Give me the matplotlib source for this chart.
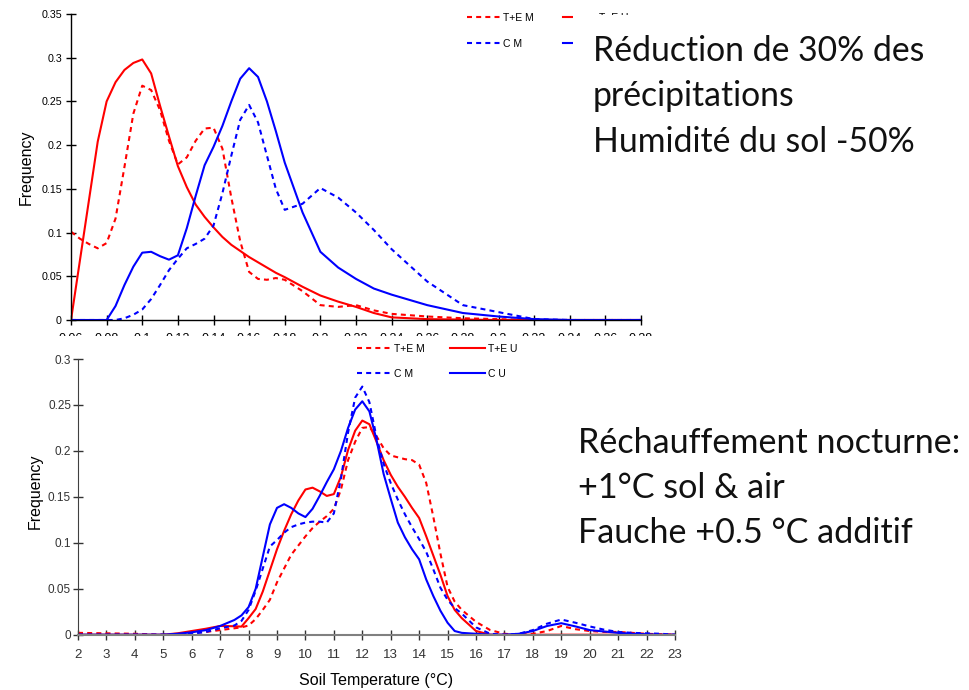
import matplotlib
matplotlib.use("Agg")
import matplotlib.pyplot as plt
from matplotlib.patches import Rectangle

plt.rcParams['font.family'] = ['Liberation Sans', 'DejaVu Sans']

RED = '#FF0000'
BLUE = '#0000FF'

# ---------------- top panel: soil moisture ----------------
moisture = [0.06, 0.065, 0.07, 0.075, 0.08, 0.085, 0.09, 0.095, 0.10, 0.105,
            0.11, 0.115, 0.12, 0.125, 0.13, 0.135, 0.14, 0.145, 0.15, 0.155,
            0.16, 0.165, 0.17, 0.175, 0.18, 0.19, 0.20, 0.21, 0.22, 0.23,
            0.24, 0.26, 0.28, 0.30, 0.32, 0.34, 0.36, 0.38]
top_te_m = [0.101, 0.093, 0.087, 0.082, 0.088, 0.116, 0.175, 0.236, 0.268, 0.263,
            0.24, 0.205, 0.178, 0.186, 0.205, 0.219, 0.220, 0.196, 0.14, 0.09,
            0.055, 0.047, 0.046, 0.048, 0.046, 0.033, 0.017, 0.015, 0.017, 0.011,
            0.007, 0.004, 0.002, 0.001, 0, 0, 0, 0]
top_te_u = [0, 0.068, 0.136, 0.204, 0.25, 0.272, 0.286, 0.294, 0.298, 0.282,
            0.245, 0.21, 0.176, 0.152, 0.132, 0.118, 0.106, 0.095, 0.086, 0.079,
            0.072, 0.066, 0.06, 0.054, 0.049, 0.038, 0.028, 0.021, 0.015, 0.008,
            0.003, 0.001, 0.0005, 0, 0, 0, 0, 0]
top_c_m = [0, 0, 0, 0, 0, 0, 0.002, 0.006, 0.012, 0.024,
           0.040, 0.057, 0.070, 0.082, 0.087, 0.093, 0.108, 0.145, 0.188, 0.229,
           0.246, 0.226, 0.188, 0.150, 0.126, 0.133, 0.151, 0.140, 0.123, 0.103,
           0.081, 0.044, 0.017, 0.009, 0.001, 0, 0, 0]
top_c_u = [0, 0, 0, 0, 0, 0.016, 0.040, 0.061, 0.077, 0.078,
           0.073, 0.069, 0.074, 0.105, 0.142, 0.177, 0.198, 0.222, 0.250, 0.276,
           0.288, 0.278, 0.250, 0.216, 0.180, 0.123, 0.078, 0.060, 0.047, 0.036,
           0.029, 0.017, 0.008, 0.004, 0.001, 0, 0, 0]
top_xticks = [0.06, 0.08, 0.10, 0.12, 0.14, 0.16, 0.18, 0.20, 0.22, 0.24,
              0.26, 0.28, 0.30, 0.32, 0.34, 0.36, 0.38]
top_xticklabels = ['0.06', '0.08', '0.1', '0.12', '0.14', '0.16', '0.18', '0.2', '0.22',
                   '0.24', '0.26', '0.28', '0.3', '0.32', '0.34', '0.36', '0.38']
top_yticks = [0, 0.05, 0.1, 0.15, 0.2, 0.25, 0.3, 0.35]
top_yticklabels = ['0', '0.05', '0.1', '0.15', '0.2', '0.25', '0.3', '0.35']

# ---------------- bottom panel: soil temperature ----------------
temp = [2, 3, 4, 5, 5.5, 6, 6.5, 7, 7.5, 7.75,
        8, 8.25, 8.5, 8.75, 9, 9.25, 9.5, 9.75, 10, 10.25,
        10.5, 10.75, 11, 11.25, 11.5, 11.75, 12, 12.25, 12.5, 12.75,
        13, 13.25, 13.5, 13.75, 14, 14.25, 14.5, 14.75, 15, 15.25,
        15.5, 16, 16.5, 17, 17.5, 18, 18.5, 19, 19.5, 20,
        20.5, 21, 21.5, 22, 22.5, 23]
bot_te_m = [0.002, 0.0015, 0.001, 0, 0.001, 0.002, 0.003, 0.005, 0.007, 0.008,
            0.010, 0.017, 0.027, 0.038, 0.057, 0.072, 0.087, 0.097, 0.107, 0.116,
            0.123, 0.129, 0.137, 0.158, 0.19, 0.21, 0.225, 0.226, 0.216, 0.203,
            0.195, 0.193, 0.191, 0.190, 0.185, 0.165, 0.128, 0.088, 0.052, 0.036,
            0.027, 0.014, 0.005, 0.001, 0, 0.001, 0.004, 0.0095, 0.006, 0.004,
            0.003, 0.003, 0.002, 0.001, 0.0005, 0]
bot_te_u = [0, 0, 0, 0, 0.0015, 0.004, 0.0065, 0.0095, 0.0092, 0.0088,
            0.018, 0.028, 0.047, 0.07, 0.093, 0.113, 0.131, 0.146, 0.158, 0.160,
            0.156, 0.151, 0.153, 0.172, 0.201, 0.222, 0.233, 0.229, 0.21, 0.19,
            0.174, 0.161, 0.15, 0.138, 0.127, 0.107, 0.086, 0.065, 0.042, 0.027,
            0.018, 0.004, 0, 0, 0, 0, 0, 0, 0, 0,
            0, 0, 0, 0, 0, 0]
bot_c_m = [0, 0, 0, 0, 0, 0.001, 0.003, 0.007, 0.010, 0.015,
           0.027, 0.048, 0.072, 0.096, 0.103, 0.111, 0.117, 0.120, 0.122, 0.123,
           0.123, 0.122, 0.132, 0.17, 0.22, 0.258, 0.27, 0.253, 0.215, 0.186,
           0.165, 0.147, 0.131, 0.117, 0.104, 0.09, 0.071, 0.051, 0.038, 0.029,
           0.023, 0.008, 0.001, 0, 0.001, 0.005, 0.012, 0.0165, 0.013, 0.009,
           0.0055, 0.003, 0.002, 0.0015, 0.001, 0]
bot_c_u = [0, 0, 0, 0, 0.001, 0.0026, 0.005, 0.0095, 0.016, 0.021,
           0.030, 0.05, 0.085, 0.12, 0.138, 0.142, 0.138, 0.132, 0.128, 0.137,
           0.151, 0.166, 0.180, 0.20, 0.225, 0.245, 0.254, 0.243, 0.212, 0.175,
           0.148, 0.122, 0.106, 0.093, 0.082, 0.060, 0.042, 0.026, 0.013, 0.004,
           0.002, 0.001, 0, 0, 0.001, 0.004, 0.0095, 0.0125, 0.009, 0.005,
           0.0035, 0.002, 0.001, 0.0005, 0, 0]
bot_xticks = list(range(2, 24))
bot_yticks = [0, 0.05, 0.1, 0.15, 0.2, 0.25, 0.3]
bot_yticklabels = ['0', '0.05', '0.1', '0.15', '0.2', '0.25', '0.3']

series_labels = ['T+E M', 'T+E U', 'C M', 'C U']
top_text = ['Réduction de 30% des', 'précipitations', 'Humidité du sol -50%']
bot_text = ['Réchauffement nocturne:', '+1°C sol & air', 'Fauche +0.5 °C additif']

W, H = 969, 690
fig = plt.figure(figsize=(W / 100, H / 100), dpi=100)


def fx(px):
    return px / W


def fy(py):
    return (H - py) / H


DASH = (0, (2.4, 2.0))
LW = 1.5

# ---- top axes ----
ax1 = fig.add_axes([fx(71), fy(320), fx(641) - fx(71), fy(14) - fy(320)])
ax1.set_zorder(0)
l1, = ax1.plot(moisture, top_te_m, color=RED, lw=LW, ls=DASH)
l2, = ax1.plot(moisture, top_te_u, color=RED, lw=LW)
l3, = ax1.plot(moisture, top_c_m, color=BLUE, lw=LW, ls=DASH)
l4, = ax1.plot(moisture, top_c_u, color=BLUE, lw=LW)
ax1.set_xlim(0.06, 0.38)
ax1.set_ylim(0, 0.35)
ax1.set_xticks(top_xticks)
ax1.set_xticklabels(top_xticklabels, fontsize=9)
ax1.set_yticks(top_yticks)
ax1.set_yticklabels(top_yticklabels, fontsize=7.7)
for s in ['top', 'right']:
    ax1.spines[s].set_visible(False)
for s in ['left', 'bottom']:
    ax1.spines[s].set_color('black')
    ax1.spines[s].set_linewidth(1.0)
ax1.tick_params(axis='both', direction='inout', length=7, width=1, colors='black')
ax1.tick_params(axis='x', pad=6)
ax1.tick_params(axis='y', pad=3)
# legend filled column by column: col 1 = M series, col 2 = U series
ax1.legend([l1, l3, l2, l4], [series_labels[0], series_labels[2],
                              series_labels[1], series_labels[3]],
           ncol=2, loc='upper left',
           bbox_to_anchor=(fx(467), fy(13)), bbox_transform=fig.transFigure,
           frameon=False, fontsize=7.5, handlelength=3.2, handletextpad=0.3,
           columnspacing=2.75, labelspacing=1.5, borderpad=0, borderaxespad=0)
fig.text(fx(26), fy(167), 'Frequency', rotation=90, ha='center', va='center',
         fontsize=11.5)

# white cover panels (overlapping slide elements)
fig.add_artist(Rectangle((0, 0), 1, fy(336), transform=fig.transFigure,
                         facecolor='white', edgecolor='none', zorder=0.5))
fig.add_artist(Rectangle((fx(573), fy(170)), fx(969) - fx(573), fy(15) - fy(170),
                         transform=fig.transFigure, facecolor='white',
                         edgecolor='none', zorder=0.5))

# ---- bottom axes ----
ax2 = fig.add_axes([fx(78), fy(634.7), fx(675) - fx(78), fy(359) - fy(634.7)])
ax2.set_zorder(1)
m1, = ax2.plot(temp, bot_te_m, color=RED, lw=LW, ls=DASH)
m2, = ax2.plot(temp, bot_te_u, color=RED, lw=LW)
m3, = ax2.plot(temp, bot_c_m, color=BLUE, lw=LW, ls=DASH)
m4, = ax2.plot(temp, bot_c_u, color=BLUE, lw=LW)
ax2.set_xlim(2, 23)
ax2.set_ylim(0, 0.3)
ax2.set_xticks(bot_xticks)
ax2.set_xticklabels([str(t) for t in bot_xticks], fontsize=9.5)
ax2.set_yticks(bot_yticks)
ax2.set_yticklabels(bot_yticklabels, fontsize=8.5)
for s in ['top', 'right']:
    ax2.spines[s].set_visible(False)
ax2.spines['left'].set_color('#404040')
ax2.spines['bottom'].set_color('#808080')
ax2.spines['bottom'].set_linewidth(1.5)
ax2.tick_params(axis='both', direction='inout', length=7, width=1, colors='#333333')
ax2.tick_params(axis='x', pad=7)
ax2.tick_params(axis='y', pad=1.5)
ax2.legend([m1, m3, m2, m4], [series_labels[0], series_labels[2],
                              series_labels[1], series_labels[3]],
           ncol=2, loc='upper left',
           bbox_to_anchor=(fx(357), fy(344)), bbox_transform=fig.transFigure,
           frameon=False, fontsize=7.5, handlelength=3.3, handletextpad=0.3,
           columnspacing=2.4, labelspacing=1.4, borderpad=0, borderaxespad=0)
fig.text(fx(35), fy(491), 'Frequency', rotation=90, ha='center', va='center',
         fontsize=11.5, zorder=3)
fig.text(fx(376), fy(685), 'Soil Temperature (°C)', ha='center', va='baseline',
         fontsize=11.5, zorder=3)

# ---- slide annotations ----
for i, line in enumerate(top_text):
    fig.text(fx(593), fy(61 + 45.5 * i), line, ha='left', va='baseline',
             fontsize=24.3, family=['Lato', 'DejaVu Sans'], color='#111111', zorder=3)
for i, line in enumerate(bot_text):
    fig.text(fx(578), fy(453 + 45 * i), line, ha='left', va='baseline',
             fontsize=24.6, family=['Lato', 'DejaVu Sans'], color='#111111', zorder=3)

fig.savefig('out.png', dpi=100)
